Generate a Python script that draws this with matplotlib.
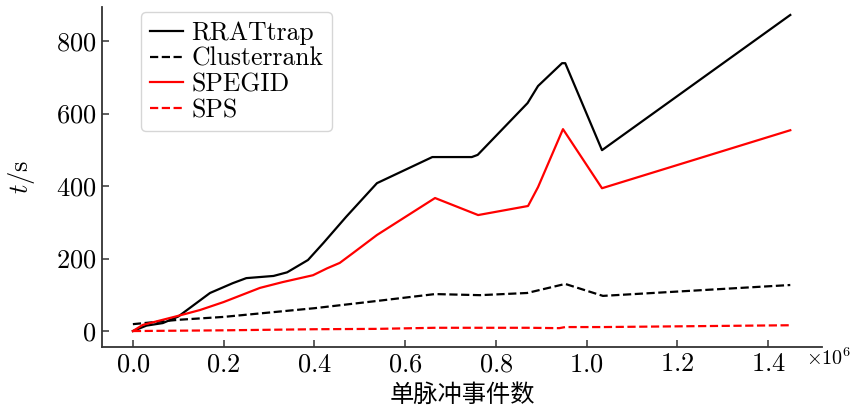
import numpy as np
from matplotlib import pyplot as plt

# event counts (x) and run time in seconds (y) for each search tool
rrat_x = [0, 0.03e6, 0.066e6, 0.1e6, 0.17e6, 0.22e6, 0.25e6, 0.31e6, 0.34e6, 0.386e6, 0.42e6,
          0.47e6, 0.538e6, 0.66e6, 0.747e6, 0.76e6, 0.87e6, 0.893e6, 0.946e6, 0.953e6, 1.034e6, 1.449e6]
rrat_y = [0, 15, 22, 40, 105, 132, 146, 152, 162, 196, 243,
          315, 408, 480, 480, 486, 629, 676, 739, 739, 499, 872]

cluster_x = [0, 0.1e6, 0.2e6, 0.4e6, 0.538e6, 0.666e6, 0.765e6, 0.869e6, 0.953e6, 1.036e6, 1.449e6]
cluster_y = [19, 31, 39, 63, 83, 102, 99, 105, 130, 97, 127]

spegid_x = [0, 0.022e6, 0.097e6, 0.148e6, 0.2e6, 0.28e6, 0.33e6, 0.397e6, 0.428e6, 0.456e6,
            0.485e6, 0.538e6, 0.666e6, 0.761e6, 0.871e6, 0.893e6, 0.948e6, 1.034e6, 1.449e6]
spegid_y = [0, 17, 41, 58, 80, 119, 135, 154, 173, 188,
            215, 265, 367, 320, 345, 397, 557, 394, 554]

sps_x = [0, 0.2e6, 0.4e6, 0.538e6, 0.666e6, 0.87e6, 0.94e6, 0.953e6, 1.036e6, 1.449e6]
sps_y = [0, 2, 5, 6, 9, 9, 8, 11, 11, 16]

plt.rcParams['font.family'] = ['cmr10', 'Noto Sans CJK SC']
plt.rcParams['mathtext.fontset'] = 'cm'
plt.rcParams['axes.formatter.use_mathtext'] = True

fig = plt.figure(figsize=(8.53, 4.09), dpi=100)
ax = fig.add_axes([0.1196, 0.1516, 0.8441, 0.8313])

ax.plot(rrat_x, rrat_y, color='k', lw=1.6, label='RRATtrap')
ax.plot(cluster_x, cluster_y, color='k', lw=1.6, ls='--', label='Clusterrank')
ax.plot(spegid_x, spegid_y, color='r', lw=1.6, label='SPEGID')
ax.plot(sps_x, sps_y, color='r', lw=1.6, ls='--', label='SPS')

ax.set_xlim(-0.068e6, 1.519e6)
ax.set_ylim(-44, 894)
ax.set_xticks(np.arange(0, 1.41e6, 0.2e6))
ax.set_yticks([0, 200, 400, 600, 800])
ax.ticklabel_format(axis='x', style='sci', scilimits=(6, 6), useMathText=True)
ax.xaxis.get_offset_text().set_visible(False)
ax.text(0.978, -0.033, r'$\times10^{6}$', transform=ax.transAxes, fontsize=14.5, va='center', ha='left')

for s in ['top', 'right']:
    ax.spines[s].set_visible(False)
for s in ['left', 'bottom']:
    ax.spines[s].set_color('#333333')
    ax.spines[s].set_linewidth(1.3)
ax.tick_params(direction='in', length=5, width=1.1, color='#333333', labelsize=19, pad=4)

ax.set_ylabel(r'$t$/s', fontsize=19, labelpad=14)
ax.set_xlabel('单脉冲事件数', fontsize=17.5, family=['Noto Sans CJK SC'], labelpad=4)

ax.legend(loc='upper left', bbox_to_anchor=(0.054, 0.985), borderaxespad=0, fontsize=18.5,
          handlelength=1.3, labelspacing=0.08, handletextpad=0.3, borderpad=0.35, edgecolor='#cccccc')

fig.savefig('out.png', dpi=100)
